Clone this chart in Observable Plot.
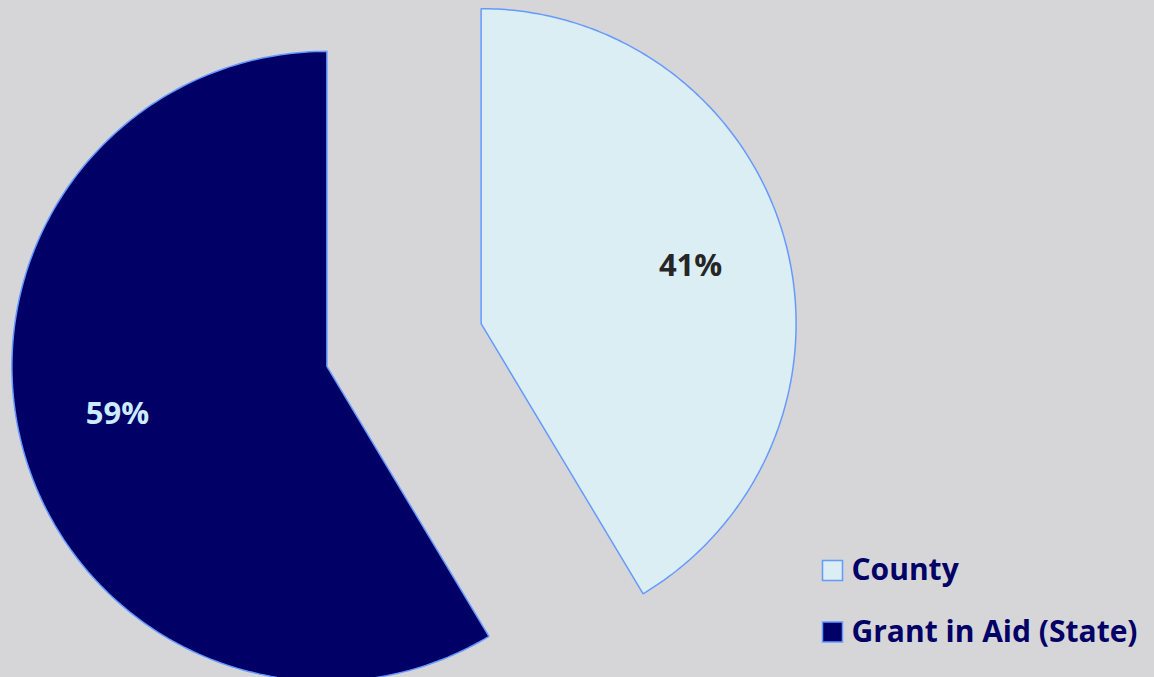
<!DOCTYPE html>
<html>
<head>
<meta charset="utf-8">
<script src="https://cdn.jsdelivr.net/npm/d3@7"></script>
<script src="https://cdn.jsdelivr.net/npm/@observablehq/plot@0.6"></script>
<style>
  html, body { margin: 0; padding: 0; background: #d6d6d8; }
  #chart { width: 1154px; height: 677px; overflow: hidden; }
</style>
</head>
<body>
<div id="chart"></div>
<script>
// Data
const categories = ["County", "Grant in Aid (State)"];
const shares = [41.4, 58.6];
const labels = ["41%", "59%"];
const sliceFills = ["#DAEEF3", "#000066"];
const labelColors = ["#262626", "#CCECFF"];

// Layout
const W = 1154, H = 677;
const cx = 403.5, cy = 344.5, R = 315, explode = 80, labelFrac = 0.69;
const labelNudgeY = [0, -10];

const arcs = d3.pie().sort(null).value(d => d)(shares);

const slices = arcs.map((a, i) => {
  const mid = (a.startAngle + a.endAngle) / 2;
  const ox = cx + explode * Math.sin(mid);
  const oy = cy - explode * Math.cos(mid);
  const pts = [{x: ox, y: oy}];
  const n = 200;
  for (let k = 0; k <= n; k++) {
    const t = a.startAngle + (a.endAngle - a.startAngle) * k / n;
    pts.push({x: ox + R * Math.sin(t), y: oy - R * Math.cos(t)});
  }
  pts.push({x: ox, y: oy});
  return {
    cat: categories[i],
    pts,
    label: labels[i],
    lx: ox + labelFrac * R * Math.sin(mid),
    ly: oy - labelFrac * R * Math.cos(mid) + labelNudgeY[i],
    fill: sliceFills[i],
    labelColor: labelColors[i]
  };
});

const legendX = 832, legendY0 = 570, legendDY = 61.5;
const legendRows = categories.map((c, i) => ({
  cat: c, x: legendX, y: legendY0 + i * legendDY, fill: sliceFills[i]
}));

const marks = [];
slices.forEach(s => {
  marks.push(Plot.line(s.pts, {
    x: "x", y: "y", fill: s.fill, stroke: "#6699FF", strokeWidth: 1.5,
    strokeLinejoin: "miter", curve: "linear"
  }));
});
slices.forEach(s => {
  marks.push(Plot.text([s], {
    x: "lx", y: "ly", text: "label", fill: s.labelColor,
    fontSize: 31, fontWeight: "bold", textAnchor: "middle", lineAnchor: "middle"
  }));
});
legendRows.forEach(r => {
  marks.push(Plot.dot([r], {
    x: "x", y: "y", symbol: "square", r: 20 / Math.sqrt(Math.PI),
    fill: r.fill, stroke: "#6699FF", strokeWidth: 1.5
  }));
  marks.push(Plot.text([r], {
    x: d => d.x + 19, y: "y", text: "cat", fill: "#000066",
    fontSize: 30, fontWeight: "bold", textAnchor: "start", lineAnchor: "middle"
  }));
});

const chart = Plot.plot({
  width: W, height: H, margin: 0,
  x: {domain: [0, W], axis: null},
  y: {domain: [H, 0], axis: null},
  style: {background: "transparent", fontFamily: "'Open Sans', Lato, sans-serif"},
  marks
});
document.getElementById("chart").appendChild(chart);
</script>
</body>
</html>
